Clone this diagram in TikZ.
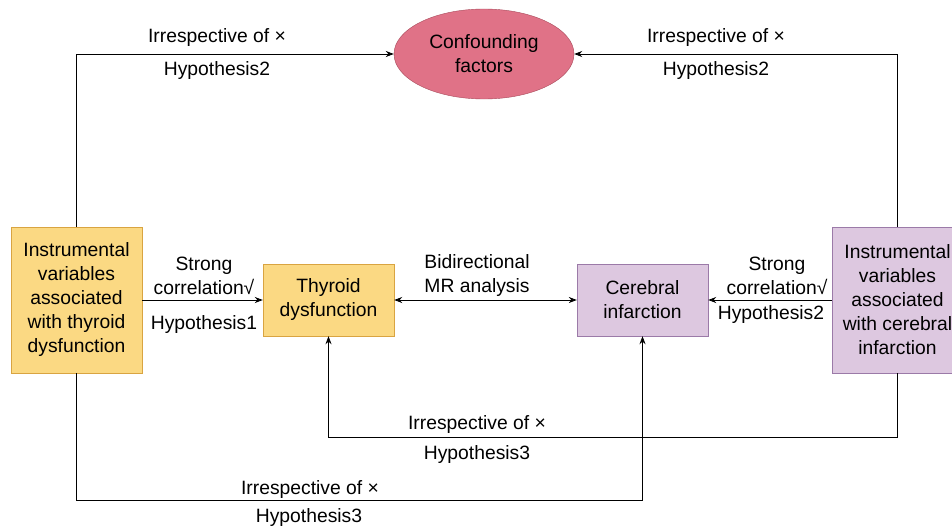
\documentclass[tikz,border=0pt]{standalone}
\usepackage{fontspec}
\setmainfont{Liberation Sans}
\usepackage{xcolor}
\usetikzlibrary{shapes.geometric, positioning, arrows.meta}

\definecolor{yfill}{HTML}{FBD983}
\definecolor{ydraw}{HTML}{D9A441}
\definecolor{pfill}{HTML}{DDC8E0}
\definecolor{pdraw}{HTML}{9B7AA8}
\definecolor{rfill}{HTML}{E07287}
\definecolor{rdraw}{HTML}{A84A5A}

\begin{document}
\begin{tikzpicture}[
    x=1pt, y=-1pt,
    font=\fontsize{19.3}{24}\selectfont,
    box/.style={draw, align=center, minimum width=131pt, inner sep=2pt},
    ivbox/.style={box, minimum height=146pt},
    outbox/.style={box, minimum height=72pt},
    lbl/.style={align=center, inner sep=0pt},
    conn/.style={line width=0.8pt, -{Stealth[length=8pt, width=6pt]}}
]
    \useasboundingbox (0,0) rectangle (952,527);

    % Nodes
    \node[ivbox, fill=yfill, draw=ydraw] (ivthy) at (76.5, 300) {Instrumental\\variables\\associated\\with thyroid\\dysfunction};
    \node[outbox, fill=yfill, draw=ydraw] (thy) at (328.5, 300) {Thyroid\\dysfunction};
    \node[outbox, fill=pfill, draw=pdraw] (cer) at (642.5, 300) {Cerebral\\infarction};
    \node[ivbox, fill=pfill, draw=pdraw] (ivcer) at (897.5, 300) {Instrumental\\variables\\associated\\with cerebral\\infarction};
    \node[ellipse, draw=rdraw, fill=rfill, minimum width=180pt, minimum height=90pt, inner sep=0pt, align=center] (conf) at (484, 54) {Confounding\\factors};

    % Connections
    \draw[conn] (ivthy.north) |- (conf.west);
    \draw[conn] (ivcer.north) |- (conf.east);
    \draw[conn] (ivthy) -- (thy);
    \draw[conn, {Stealth[length=8pt, width=6pt]}-{Stealth[length=8pt, width=6pt]}] (thy) -- (cer);
    \draw[conn] (ivcer) -- (cer);
    \draw[conn] (ivcer.south) -- ++(0,64) -| (thy.south);
    \draw[conn] (ivthy.south) -- ++(0,127) -| (cer.south);

    % Labels
    \node[lbl] (l1a) at (217, 38) {Irrespective of ×};
    \node[lbl] (l1b) at (217, 71) {Hypothesis2};
    \node[lbl] (l2a) at (716, 38) {Irrespective of ×};
    \node[lbl] (l2b) at (716, 71) {Hypothesis2};
    \node[lbl] (l3a) at (204, 276) {Strong\\correlation√};
    \node[lbl] (l3b) at (204, 325) {Hypothesis1};
    \node[lbl] (l4) at (477, 276) {Bidirectional\\MR analysis};
    \node[lbl] (l5a) at (777, 276) {Strong\\correlation√};
    \node[lbl] (l5b) at (771, 315) {Hypothesis2};
    \node[lbl] (l6a) at (477, 425) {Irrespective of ×};
    \node[lbl] (l6b) at (477, 455) {Hypothesis3};
    \node[lbl] (l7a) at (310, 490) {Irrespective of ×};
    \node[lbl] (l7b) at (309, 518) {Hypothesis3};
\end{tikzpicture}
\end{document}
